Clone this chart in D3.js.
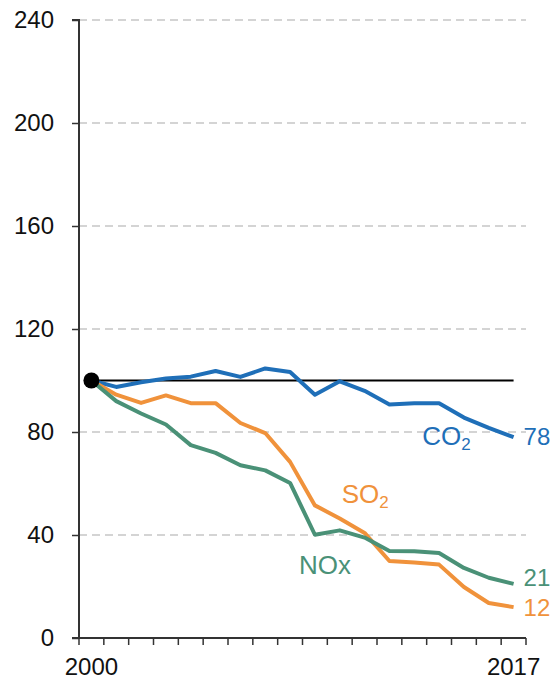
<!DOCTYPE html>
<html>
<head>
<meta charset="utf-8">
<script src="https://cdnjs.cloudflare.com/ajax/libs/d3/7.8.5/d3.min.js"></script>
<style>
  body { margin: 0; background: #fff; }
  svg text { font-family: "Liberation Sans", Arial, sans-serif; }
</style>
</head>
<body>
<svg id="chart" width="554" height="682"></svg>
<script>
var years = d3.range(2000, 2018);
var yTicks = [0, 40, 80, 120, 160, 200, 240];
var xLabels = [2000, 2017];
var co2 = [100, 97.5, 99.3, 100.8, 101.5, 103.7, 101.4, 104.7, 103.3, 94.5, 99.7, 96, 90.7, 91.2, 91.2, 85.6, 81.6, 78];
var so2 = [100, 94.5, 91.3, 94.2, 91.2, 91.2, 83.5, 79.6, 68.4, 51.5, 46.4, 40.8, 29.9, 29.3, 28.5, 19.8, 13.6, 12];
var nox = [100, 92, 87.2, 82.9, 74.9, 71.9, 67.1, 65.1, 60.2, 40.1, 41.8, 39, 33.8, 33.7, 33, 27.2, 23.4, 21];
var seriesNames = ["CO2", "SO2", "NOx"];
var seriesColors = ["#1f6fb8", "#f0923b", "#4a9177"];

var margin = {l: 79, t: 20, r: 28, b: 44};
var svg = d3.select("#chart");
var w = 554 - margin.l - margin.r, h = 682 - margin.t - margin.b;
var g = svg.append("g").attr("transform", "translate(" + margin.l + "," + margin.t + ")");

var x = d3.scaleBand().domain(years).range([0, w]);
var cx = function(yr) { return x(yr) + x.bandwidth() / 2; };
var y = d3.scaleLinear().domain([0, 240]).range([h, 0]);

// dashed gridlines
g.selectAll(".grid").data(yTicks.slice(1)).enter()
  .append("line")
  .attr("x1", 0).attr("x2", w)
  .attr("y1", function(d) { return y(d); })
  .attr("y2", function(d) { return y(d); })
  .attr("stroke", "#d4d4d4").attr("stroke-width", 1.8)
  .attr("stroke-dasharray", "8,5");

// y axis
var yAxis = g.append("g").call(d3.axisLeft(y).tickValues(yTicks).tickSize(7).tickPadding(18));
yAxis.select(".domain").attr("stroke", "#333").attr("stroke-width", 2).attr("d", "M0," + h + "V0H-7");
yAxis.selectAll(".tick line").attr("stroke", "#333").attr("stroke-width", 1.5);
yAxis.selectAll(".tick text").attr("font-size", 24).attr("fill", "#111");

// x axis: ticks at band edges
var xg = g.append("g").attr("transform", "translate(0," + h + ")");
xg.append("line").attr("x1", -7).attr("x2", w).attr("stroke", "#333").attr("stroke-width", 2);
var edges = years.map(function(d) { return x(d); }).concat([w]);
xg.selectAll(".xt").data(edges).enter()
  .append("line")
  .attr("x1", function(d) { return d; }).attr("x2", function(d) { return d; })
  .attr("y1", 0).attr("y2", 7)
  .attr("stroke", "#333").attr("stroke-width", 1.5);
xg.selectAll(".xl").data(xLabels).enter()
  .append("text")
  .attr("x", function(d) { return cx(d); })
  .attr("y", 37)
  .attr("text-anchor", "middle")
  .attr("font-size", 24).attr("fill", "#111")
  .text(function(d) { return d; });

// reference line at 100
g.append("line")
  .attr("x1", cx(2000)).attr("x2", cx(2017))
  .attr("y1", y(100)).attr("y2", y(100))
  .attr("stroke", "#000").attr("stroke-width", 2);

var line = d3.line()
  .x(function(d, i) { return cx(years[i]); })
  .y(function(d) { return y(d); });

var allSeries = [co2, so2, nox];
g.selectAll(".series").data(allSeries).enter()
  .append("path")
  .attr("d", line)
  .attr("fill", "none")
  .attr("stroke", function(d, i) { return seriesColors[i]; })
  .attr("stroke-width", 4)
  .attr("stroke-linejoin", "round");

g.append("circle").attr("cx", cx(2000)).attr("cy", y(100)).attr("r", 8).attr("fill", "#000");

// end values (small vertical nudges so 21 and 12 don't collide)
var endNudge = [8, 9, 2];
allSeries.forEach(function(s, i) {
  g.append("text")
    .attr("x", cx(2017) + 10)
    .attr("y", y(s[s.length - 1]) + endNudge[i])
    .attr("font-size", 24)
    .attr("fill", seriesColors[i])
    .text(Math.round(s[s.length - 1]));
});

// series names
var nameLabels = [
  {name: "CO", sub: "2", yr: 2013, v: 74.9, dx: 8},
  {name: "SO", sub: "2", yr: 2010, v: 52.5, dx: 2},
  {name: "NOx", sub: "", yr: 2009, v: 25, dx: -16}
];
nameLabels.forEach(function(d, i) {
  var t = g.append("text")
    .attr("x", cx(d.yr) + d.dx)
    .attr("y", y(d.v))
    .attr("font-size", 26)
    .attr("fill", seriesColors[i])
    .text(d.name);
  if (d.sub) {
    t.append("tspan").attr("font-size", 17).attr("dy", 5).text(d.sub);
  }
});
</script>
</body>
</html>
